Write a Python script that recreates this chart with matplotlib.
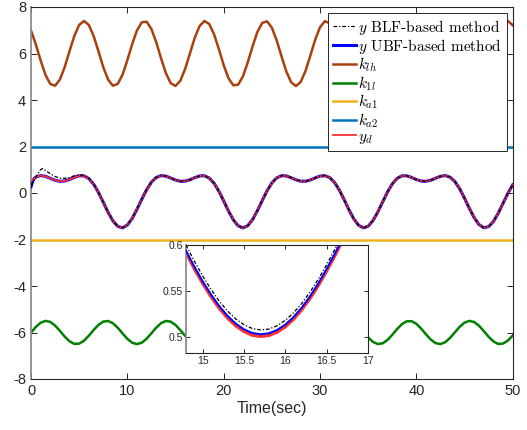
import numpy as np
import matplotlib
matplotlib.use("Agg")
import matplotlib.pyplot as plt
from matplotlib.ticker import FormatStrFormatter

plt.rcParams.update({
    "font.family": "Liberation Sans",
    "mathtext.fontset": "cm",
    "axes.unicode_minus": False,
    "xtick.direction": "in",
    "ytick.direction": "in",
    "xtick.top": True,
    "ytick.right": True,
})

# sample times, 0.5 s apart
t = np.linspace(0, 50, 101)

# reference signal y_d
y_d = [0.500, 0.686, 0.750, 0.717, 0.633, 0.548, 0.502, 0.516, 0.583, 0.673,
       0.740, 0.736, 0.621, 0.380, 0.026, -0.398, -0.830, -1.196, -1.433, -1.498,
       -1.379, -1.097, -0.703, -0.267, 0.143, 0.466, 0.669, 0.748, 0.725, 0.646,
       0.558, 0.505, 0.511, 0.571, 0.661, 0.734, 0.742, 0.643, 0.419, 0.078,
       -0.340, -0.775, -1.154, -1.411, -1.500, -1.405, -1.142, -0.760, -0.325, 0.092,
       0.429, 0.649, 0.744, 0.733, 0.658, 0.569, 0.509, 0.506, 0.561, 0.649,
       0.727, 0.745, 0.664, 0.456, 0.129, -0.282, -0.718, -1.109, -1.386, -1.499,
       -1.428, -1.185, -0.815, -0.384, 0.040, 0.391, 0.628, 0.738, 0.739, 0.670,
       0.579, 0.514, 0.503, 0.551, 0.637, 0.719, 0.748, 0.682, 0.491, 0.179,
       -0.225, -0.662, -1.062, -1.357, -1.494, -1.447, -1.226, -0.869, -0.441, -0.013,
       0.350]

k_lh = [6.990, 6.394, 5.702, 5.083, 4.688, 4.614, 4.880, 5.420, 6.102, 6.759,
        7.230, 7.400, 7.227, 6.754, 6.096, 5.415, 4.877, 4.614, 4.690, 5.087,
        5.708, 6.400, 6.994, 7.345, 7.367, 7.053, 6.482, 5.793, 5.155, 4.723,
        4.604, 4.827, 5.337, 6.009, 6.679, 7.183, 7.397, 7.269, 6.830, 6.188,
        5.500, 4.934, 4.630, 4.660, 5.019, 5.618, 6.310, 6.926, 7.316, 7.384,
        7.112, 6.568, 5.885, 5.231, 4.764, 4.600, 4.779, 5.257, 5.916, 6.597,
        7.131, 7.388, 7.305, 6.903, 6.280, 5.588, 4.997, 4.651, 4.636, 4.955,
        5.529, 6.219, 6.855, 7.281, 7.395, 7.166, 6.652, 5.978, 5.310, 4.810,
        4.602, 4.736, 5.180, 5.825, 6.511, 7.073, 7.373, 7.336, 6.972, 6.370,
        5.678, 5.064, 4.680, 4.618, 4.895, 5.443, 6.127, 6.781, 7.242, 7.400,
        7.215]

k_1l = [-6.000, -5.760, -5.579, -5.501, -5.545, -5.701, -5.929, -6.175, -6.378, -6.489,
        -6.479, -6.353, -6.140, -5.892, -5.672, -5.531, -5.505, -5.601, -5.794, -6.038,
        -6.272, -6.440, -6.500, -6.438, -6.268, -6.033, -5.790, -5.598, -5.505, -5.533,
        -5.675, -5.897, -6.144, -6.356, -6.481, -6.488, -6.376, -6.171, -5.925, -5.697,
        -5.544, -5.502, -5.582, -5.765, -6.004, -6.244, -6.423, -6.499, -6.453, -6.296,
        -6.066, -5.820, -5.619, -5.510, -5.522, -5.650, -5.865, -6.112, -6.332, -6.471,
        -6.494, -6.397, -6.202, -5.958, -5.724, -5.558, -5.500, -5.564, -5.735, -5.971,
        -6.214, -6.405, -6.496, -6.466, -6.322, -6.099, -5.852, -5.641, -5.518, -5.513,
        -5.627, -5.833, -6.079, -6.307, -6.458, -6.498, -6.416, -6.232, -5.991, -5.753,
        -5.575, -5.501, -5.549, -5.708, -5.938, -6.184, -6.384, -6.491, -6.477, -6.347,
        -6.131]

t_const = [0, 50]
k_a1 = [-2, -2]
k_a2 = [2, 2]

# start-up of the two outputs; afterwards they sit on y_d
t_ubf_head = [0.0, 0.1, 0.2, 0.3, 0.5]
y_ubf_head = [0.27, 0.40, 0.52, 0.61, 0.686]
t_blf_head = [0.0, 0.5, 1.0, 1.2, 1.5, 2.0, 2.5, 3.0, 3.5, 4.0, 4.5, 5.0, 5.5, 6.0, 6.5]
y_blf_head = [0.32, 0.68, 1.01, 1.05, 0.97, 0.83, 0.71, 0.64, 0.63, 0.67, 0.74, 0.78, 0.76, 0.64, 0.39]

# zoomed window around t = 15.7
t_zoom = [14.8, 14.9, 15.0, 15.1, 15.2, 15.3, 15.4, 15.5, 15.6, 15.7, 15.8, 15.9,
          16.0, 16.1, 16.2, 16.3, 16.4, 16.5, 16.6, 16.7, 16.8, 16.9, 17.0]
yd_zoom = [0.5913, 0.5740, 0.5581, 0.5438, 0.5310, 0.5203, 0.5117, 0.5054, 0.5014, 0.5000,
           0.5010, 0.5046, 0.5105, 0.5188, 0.5292, 0.5416, 0.5557, 0.5714, 0.5883, 0.6060,
           0.6243, 0.6428, 0.6609]
ubf_zoom = [0.5938, 0.5765, 0.5606, 0.5463, 0.5335, 0.5228, 0.5142, 0.5079, 0.5039, 0.5025,
            0.5035, 0.5071, 0.5130, 0.5213, 0.5317, 0.5441, 0.5582, 0.5739, 0.5908, 0.6085,
            0.6268, 0.6453, 0.6634]
blf_zoom = [0.6000, 0.5825, 0.5664, 0.5519, 0.5389, 0.5281, 0.5193, 0.5129, 0.5088, 0.5072,
            0.5081, 0.5117, 0.5176, 0.5259, 0.5363, 0.5487, 0.5628, 0.5785, 0.5954, 0.6131,
            0.6314, 0.6499, 0.6680]

C_BLF = "black"
C_UBF = "#0000FF"
C_KLH = "#A94010"
C_K1L = "#008000"
C_KA1 = "#EDB120"
C_KA2 = "#0072BD"
C_YD = "#FF3030"
DASHDOT = (0, (3, 1.5, 1, 1.5))
AX_C = "#262626"


def style_axes(ax, fs):
    for s in ["top", "right", "bottom"]:
        ax.spines[s].set_color(AX_C)
        ax.spines[s].set_linewidth(0.8)
    ax.spines["left"].set_color("#8c8c8c")
    ax.spines["left"].set_linewidth(1.3)
    ax.tick_params(colors=AX_C, labelsize=fs, length=4, width=0.7)


fig = plt.figure(figsize=(5.27, 4.30), dpi=100)
ax = fig.add_axes([31 / 527, 1 - 379 / 430, 481.7 / 527, 372 / 430])

t_ubf = t_ubf_head + list(t[2:])
y_ubf = y_ubf_head + y_d[2:]
t_blf = t_blf_head + list(t[14:])
y_blf = y_blf_head + y_d[14:]

h_blf, = ax.plot(t_blf, y_blf, color=C_BLF, ls=DASHDOT, lw=0.9, zorder=5,
                 label=r"$y$ BLF-based method")
h_ubf, = ax.plot(t_ubf, y_ubf, color=C_UBF, lw=2.2, zorder=3,
                 label=r"$y$ UBF-based method")
h_klh, = ax.plot(t, k_lh, color=C_KLH, lw=1.8, label=r"$k_{lh}$")
h_k1l, = ax.plot(t, k_1l, color=C_K1L, lw=1.8, label=r"$k_{1l}$")
h_ka1, = ax.plot(t_const, k_a1, color=C_KA1, lw=1.8, label=r"$k_{a1}$")
h_ka2, = ax.plot(t_const, k_a2, color=C_KA2, lw=1.8, label=r"$k_{a2}$")
h_yd, = ax.plot(t, y_d, color=C_YD, lw=1.3, zorder=4, label=r"$y_d$")

ax.set_xlim(0, 50)
ax.set_ylim(-8, 8)
ax.set_xticks([0, 10, 20, 30, 40, 50])
ax.set_yticks([-8, -6, -4, -2, 0, 2, 4, 6, 8])
style_axes(ax, 10.5)
ax.set_xlabel("Time(sec)", fontsize=11.5, color=AX_C, labelpad=2)

leg = ax.legend(handles=[h_blf, h_ubf, h_klh, h_k1l, h_ka1, h_ka2, h_yd],
                loc="upper right", bbox_to_anchor=(0.9876, 0.9847),
                borderaxespad=0, prop={"family": "cmr10", "size": 11},
                fancybox=False, framealpha=1, edgecolor=AX_C,
                handlelength=1.5, handletextpad=0.15, labelspacing=0.0,
                borderpad=0.32)
leg.get_frame().set_linewidth(0.7)

# inset
axi = fig.add_axes([186 / 527, 1 - 353 / 430, 182 / 527, 108 / 430])
axi.plot(t_zoom, yd_zoom, color=C_YD, lw=2.2, zorder=2)
axi.plot(t_zoom, ubf_zoom, color=C_UBF, lw=1.4, zorder=3)
axi.plot(t_zoom, blf_zoom, color=C_BLF, ls=DASHDOT, lw=0.9, zorder=4)
axi.set_xlim(14.8, 17)
axi.set_ylim(0.482, 0.6)
axi.set_xticks([15, 15.5, 16, 16.5, 17])
axi.set_yticks([0.5, 0.55, 0.6])
axi.xaxis.set_major_formatter(FormatStrFormatter("%g"))
axi.yaxis.set_major_formatter(FormatStrFormatter("%g"))
style_axes(axi, 7.5)
axi.tick_params(length=3, pad=2)

fig.savefig("out.png", dpi=100)
